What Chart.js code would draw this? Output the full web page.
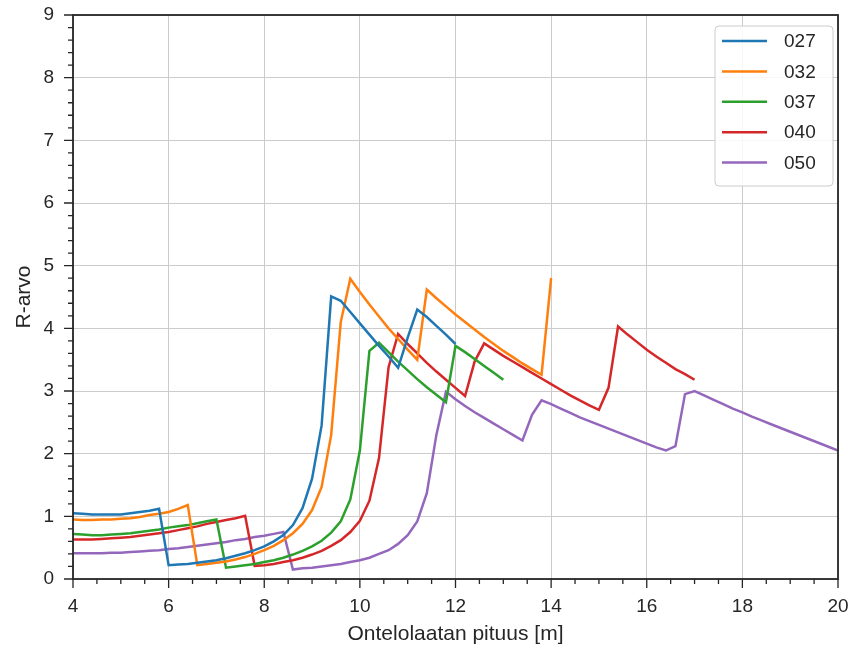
<!DOCTYPE html>
<html>
<head>
<meta charset="utf-8">
<script src="https://cdn.jsdelivr.net/npm/chart.js@4.4.0/dist/chart.umd.min.js"></script>
<style>
  html, body { margin: 0; padding: 0; background: #ffffff; }
  canvas { display: block; }
</style>
</head>
<body>
<canvas id="chart" width="854" height="652"></canvas>
<script>
// Slab length [m] – shared sampling for every profile
const lengths = [
  4.0, 4.2, 4.4, 4.6, 4.8, 5.0, 5.2, 5.4, 5.6, 5.8,
  6.0, 6.2, 6.4, 6.6, 6.8, 7.0, 7.2, 7.4, 7.6, 7.8,
  8.0, 8.2, 8.4, 8.6, 8.8, 9.0, 9.2, 9.4, 9.6, 9.8,
  10.0, 10.2, 10.4, 10.6, 10.8, 11.0, 11.2, 11.4, 11.6, 11.8,
  12.0, 12.2, 12.4, 12.6, 12.8, 13.0, 13.2, 13.4, 13.6, 13.8,
  14.0, 14.2, 14.4, 14.6, 14.8, 15.0, 15.2, 15.4, 15.6, 15.8,
  16.0, 16.2, 16.4, 16.6, 16.8, 17.0, 17.2, 17.4, 17.6, 17.8,
  18.0, 18.2, 18.4, 18.6, 18.8, 19.0, 19.2, 19.4, 19.6, 19.8,
  20.0
];

const profileNames = ['027', '032', '037', '040', '050'];

// R-value per profile, starting at 4.0 m
const r027 = [
  1.05, 1.04, 1.03, 1.03, 1.03, 1.03, 1.05, 1.07, 1.09, 1.12,
  0.22, 0.23, 0.24, 0.26, 0.28, 0.30, 0.33, 0.37, 0.41, 0.46,
  0.52, 0.60, 0.70, 0.86, 1.13, 1.60, 2.45, 4.51, 4.44, 4.26,
  4.08, 3.90, 3.72, 3.55, 3.37, 3.85, 4.30, 4.18, 4.04, 3.90,
  3.75
];
const r032 = [
  0.95, 0.94, 0.94, 0.95, 0.95, 0.96, 0.97, 0.99, 1.02, 1.04,
  1.07, 1.12, 1.18, 0.22, 0.24, 0.26, 0.28, 0.31, 0.35, 0.40,
  0.46, 0.53, 0.62, 0.73, 0.88, 1.10, 1.47, 2.30, 4.10, 4.79,
  4.58, 4.38, 4.19, 4.00, 3.83, 3.66, 3.50, 4.62, 4.48, 4.35,
  4.22, 4.10, 3.98, 3.86, 3.75, 3.64, 3.54, 3.44, 3.35, 3.26,
  4.80
];
const r037 = [
  0.72, 0.71, 0.70, 0.70, 0.71, 0.72, 0.73, 0.75, 0.77, 0.79,
  0.82, 0.84, 0.86, 0.89, 0.92, 0.95, 0.18, 0.20, 0.22, 0.24,
  0.27, 0.30, 0.34, 0.39, 0.45, 0.52, 0.61, 0.74, 0.92, 1.27,
  2.05, 3.64, 3.77, 3.62, 3.47, 3.33, 3.19, 3.06, 2.94, 2.82,
  3.72, 3.62, 3.51, 3.40, 3.29, 3.18
];
const r040 = [
  0.63, 0.63, 0.63, 0.64, 0.65, 0.66, 0.67, 0.69, 0.71, 0.73,
  0.75, 0.78, 0.81, 0.84, 0.88, 0.91, 0.94, 0.97, 1.01, 0.21,
  0.22, 0.24, 0.27, 0.30, 0.34, 0.39, 0.45, 0.53, 0.62, 0.75,
  0.93, 1.25, 1.93, 3.38, 3.91, 3.75, 3.60, 3.45, 3.31, 3.18,
  3.05, 2.92, 3.47, 3.76, 3.66, 3.56, 3.47, 3.38, 3.29, 3.20,
  3.11, 3.02, 2.93, 2.85, 2.77, 2.70, 3.05, 4.03, 3.90, 3.78,
  3.66, 3.55, 3.45, 3.35, 3.27, 3.18
];
const r050 = [
  0.41, 0.41, 0.41, 0.41, 0.42, 0.42, 0.43, 0.44, 0.45, 0.46,
  0.48, 0.49, 0.51, 0.53, 0.55, 0.57, 0.59, 0.62, 0.64, 0.67,
  0.69, 0.72, 0.75, 0.15, 0.17, 0.18, 0.20, 0.22, 0.24, 0.27,
  0.30, 0.34, 0.40, 0.46, 0.56, 0.70, 0.92, 1.37, 2.30, 2.99,
  2.87, 2.76, 2.66, 2.57, 2.48, 2.39, 2.30, 2.21, 2.62, 2.85,
  2.79, 2.72, 2.65, 2.58, 2.52, 2.46, 2.40, 2.34, 2.28, 2.22,
  2.16, 2.10, 2.05, 2.12, 2.95, 3.00, 2.93, 2.86, 2.79, 2.72,
  2.66, 2.59, 2.53, 2.47, 2.41, 2.35, 2.29, 2.23, 2.17, 2.11,
  2.05
];

const xTickValues = [4, 6, 8, 10, 12, 14, 16, 18, 20];
const yTickValues = [0, 1, 2, 3, 4, 5, 6, 7, 8, 9];

const profileValues = [r027, r032, r037, r040, r050];
const palette = ['#1f77b4', '#ff7f0e', '#2ca02c', '#d62728', '#9467bd'];

const INK = '#262626';
const FONT = '"Liberation Sans", Arial, Helvetica, sans-serif';
const TICK_SIZE = 19;
const LABEL_SIZE = 21;

// Spines plus major/minor tick marks drawn on top of the plot
const axisFrame = {
  id: 'axisFrame',
  afterDraw(chart) {
    const { ctx, chartArea: a, scales: { x, y } } = chart;
    ctx.save();
    ctx.strokeStyle = INK;
    ctx.lineWidth = 1.3;
    ctx.beginPath();
    for (let v = x.min; v <= x.max + 1e-9; v += 0.5) {
      const major = Math.abs(v / 2 - Math.round(v / 2)) < 1e-6;
      const px = x.getPixelForValue(v);
      ctx.moveTo(px, a.bottom);
      ctx.lineTo(px, a.bottom + (major ? 9 : 5));
    }
    for (let v = y.min; v <= y.max + 1e-9; v += 0.2) {
      const major = Math.abs(v - Math.round(v)) < 1e-6;
      const py = y.getPixelForValue(v);
      ctx.moveTo(a.left, py);
      ctx.lineTo(a.left - (major ? 9 : 5), py);
    }
    ctx.stroke();
    ctx.lineWidth = 1.8;
    ctx.strokeRect(a.left, a.top, a.right - a.left, a.bottom - a.top);
    ctx.restore();
  }
};

// Framed legend in the upper right corner of the plot area
const cornerLegend = {
  id: 'cornerLegend',
  afterDraw(chart) {
    const { ctx, chartArea: a } = chart;
    const sets = chart.data.datasets;
    const w = 118, rowH = 30.4;
    const h = 8 + rowH * sets.length;
    const x0 = a.right - 5 - w, y0 = a.top + 11;
    ctx.save();
    ctx.beginPath();
    ctx.roundRect(x0, y0, w, h, 4);
    ctx.fillStyle = 'rgba(255,255,255,0.85)';
    ctx.fill();
    ctx.strokeStyle = '#cccccc';
    ctx.lineWidth = 1;
    ctx.stroke();
    ctx.font = TICK_SIZE + 'px ' + FONT;
    ctx.textBaseline = 'middle';
    ctx.textAlign = 'left';
    sets.forEach((ds, i) => {
      const cy = y0 + 15 + rowH * i;
      ctx.strokeStyle = ds.borderColor;
      ctx.lineWidth = 2.5;
      ctx.beginPath();
      ctx.moveTo(x0 + 7, cy);
      ctx.lineTo(x0 + 52, cy);
      ctx.stroke();
      ctx.fillStyle = INK;
      ctx.fillText(ds.label, x0 + 69, cy + 1);
    });
    ctx.restore();
  }
};

const datasets = profileNames.map((name, i) => ({
  label: name,
  data: profileValues[i].map((r, j) => ({ x: lengths[j], y: r })),
  borderColor: palette[i],
  backgroundColor: palette[i],
  borderWidth: 2.5,
  pointRadius: 0,
  tension: 0,
  fill: false
}));

new Chart(document.getElementById('chart'), {
  type: 'line',
  data: { datasets },
  options: {
    responsive: false,
    animation: false,
    events: [],
    layout: { padding: { top: 15, right: 16, left: 0, bottom: 0 } },
    scales: {
      x: {
        type: 'linear',
        min: 4,
        max: 20,
        afterFit(scale) {
          scale.height = 73;
          scale.paddingLeft = 0;
          scale.paddingRight = 0;
        },
        afterBuildTicks(scale) { scale.ticks = xTickValues.map(v => ({ value: v })); },
        ticks: {
          color: INK,
          padding: 16,
          font: { family: FONT, size: TICK_SIZE },
          maxRotation: 0
        },
        grid: { color: '#cccccc', lineWidth: 1, drawTicks: false },
        border: { display: false },
        title: {
          display: true,
          text: 'Ontelolaatan pituus [m]',
          color: INK,
          font: { family: FONT, size: LABEL_SIZE },
          padding: { top: 0, bottom: 5 }
        }
      },
      y: {
        type: 'linear',
        min: 0,
        max: 9,
        afterFit(scale) {
          scale.width = 73;
          scale.paddingTop = 0;
          scale.paddingBottom = 0;
        },
        afterBuildTicks(scale) { scale.ticks = yTickValues.map(v => ({ value: v })); },
        ticks: {
          color: INK,
          padding: 19,
          font: { family: FONT, size: TICK_SIZE }
        },
        grid: { color: '#cccccc', lineWidth: 1, drawTicks: false },
        border: { display: false },
        title: {
          display: true,
          text: 'R-arvo',
          color: INK,
          font: { family: FONT, size: LABEL_SIZE },
          padding: { top: 12, bottom: 0 }
        }
      }
    },
    plugins: {
      legend: { display: false },
      tooltip: { enabled: false }
    }
  },
  plugins: [axisFrame, cornerLegend]
});
</script>
</body>
</html>
